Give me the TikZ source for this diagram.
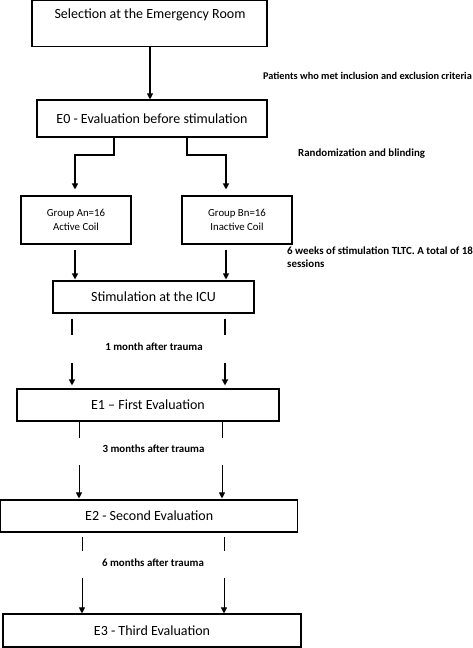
\documentclass[tikz,border=0pt]{standalone}
\usepackage{fontspec}
\setmainfont{Carlito}
\usetikzlibrary{arrows.meta}
\begin{document}
\begin{tikzpicture}[x=1pt,y=-1pt,
  box/.style={draw, line width=1.1pt, inner sep=0pt, font=\fontsize{14}{16}\selectfont},
  grp/.style={draw, line width=1.1pt, inner sep=0pt, align=center, font=\fontsize{10.8}{14}\selectfont},
  lab/.style={inner sep=0pt, font=\bfseries\fontsize{10.9}{13}\selectfont},
  conn/.style={line width=1.3pt},
  arr/.style={line width=1.3pt, -{Triangle[length=6pt,width=6pt]}}]
\useasboundingbox (0,0) rectangle (473,648);
% boxes
\node[box, minimum width=235pt, minimum height=46pt] (sel) at (149.5,23.6) {};
\node[inner sep=0pt, font=\fontsize{14}{16}\selectfont] (seltxt) at (150,15) {Selection at the Emergency Room};
\node[box, minimum width=230pt, minimum height=37pt] (e0) at (152,118.5) {E0 - Evaluation before stimulation};
\node[grp, minimum width=110pt, minimum height=48pt] (ga) at (76,220) {Group An=16\\Active Coil};
\node[grp, minimum width=110pt, minimum height=48pt] (gb) at (237,220) {Group Bn=16\\Inactive Coil};
\node[box, minimum width=201pt, minimum height=32pt] (stim) at (153.5,297) {Stimulation at the ICU};
\node[box, minimum width=262pt, minimum height=32pt] (e1) at (148,405) {E1 -- First Evaluation};
\node[box, minimum width=297pt, minimum height=32pt] (e2) at (149.2,516) {E2 - Second Evaluation};
\node[box, minimum width=298pt, minimum height=33pt] (e3) at (152,630.5) {E3 - Third Evaluation};
% labels
\node[lab, anchor=east, font=\bfseries\fontsize{10.3}{13}\selectfont] (l0) at (472,76) {Patients who met inclusion and exclusion criteria};
\node[lab, anchor=west] (l1) at (298,154) {Randomization and blinding};
\node[lab, anchor=north west, align=left] (l2) at (287,246.5) {6 weeks of stimulation TLTC. A total of 18\\sessions};
\node[lab] (l3) at (154,347) {1 month after trauma};
\node[lab] (l4) at (153.5,449) {3 months after trauma};
\node[lab] (l5) at (153,563) {6 months after trauma};
% coordinates
\coordinate (s1) at (75,155);
\coordinate (s2) at (226,155);
\coordinate (a1) at (72,335); \coordinate (a2) at (72,363);
\coordinate (b1) at (225,335); \coordinate (b2) at (225,363);
\coordinate (c1) at (79,438); \coordinate (c2) at (79,465);
\coordinate (d1) at (222,438); \coordinate (d2) at (222,465);
\coordinate (f1) at (82,551); \coordinate (f2) at (82,578);
\coordinate (g1) at (224,551); \coordinate (g2) at (224,578);
% connectors
\draw[arr, line width=1.1pt] (sel.south -| 150,0) -- (e0.north -| 150,0);
\draw[arr, shorten >=6pt] (e0.south -| 114,0) |- (s1) -- (s1 |- ga.north);
\draw[arr, shorten >=6pt] (e0.south -| 187,0) |- (s2) -- (s2 |- gb.north);
\draw[arr, shorten <=5pt, shorten >=1pt] (ga.south -| s1) -- (stim.north -| s1);
\draw[arr, line width=1.1pt, shorten <=5pt, shorten >=1pt] (gb.south -| s2) -- (stim.north -| s2);
\draw[conn, shorten <=5pt] (stim.south -| a1) -- (a1);
\draw[arr, shorten >=3pt] (a2) -- (e1.north -| a2);
\draw[conn, shorten <=5pt] (stim.south -| b1) -- (b1);
\draw[arr, shorten >=3pt] (b2) -- (e1.north -| b2);
\draw[conn, line width=1pt] (e1.south -| c1) -- (c1);
\draw[arr, line width=1pt, shorten >=1pt] (c2) -- (e2.north -| c2);
\draw[conn, line width=1pt] (e1.south -| d1) -- (d1);
\draw[arr, line width=1pt, shorten >=1pt] (d2) -- (e2.north -| d2);
\draw[conn, line width=1pt, shorten <=4pt] (e2.south -| f1) -- (f1);
\draw[arr, line width=1pt] (f2) -- (e3.north -| f2);
\draw[conn, line width=1pt, shorten <=4pt] (e2.south -| g1) -- (g1);
\draw[arr, line width=1pt] (g2) -- (e3.north -| g2);
\end{tikzpicture}
\end{document}
